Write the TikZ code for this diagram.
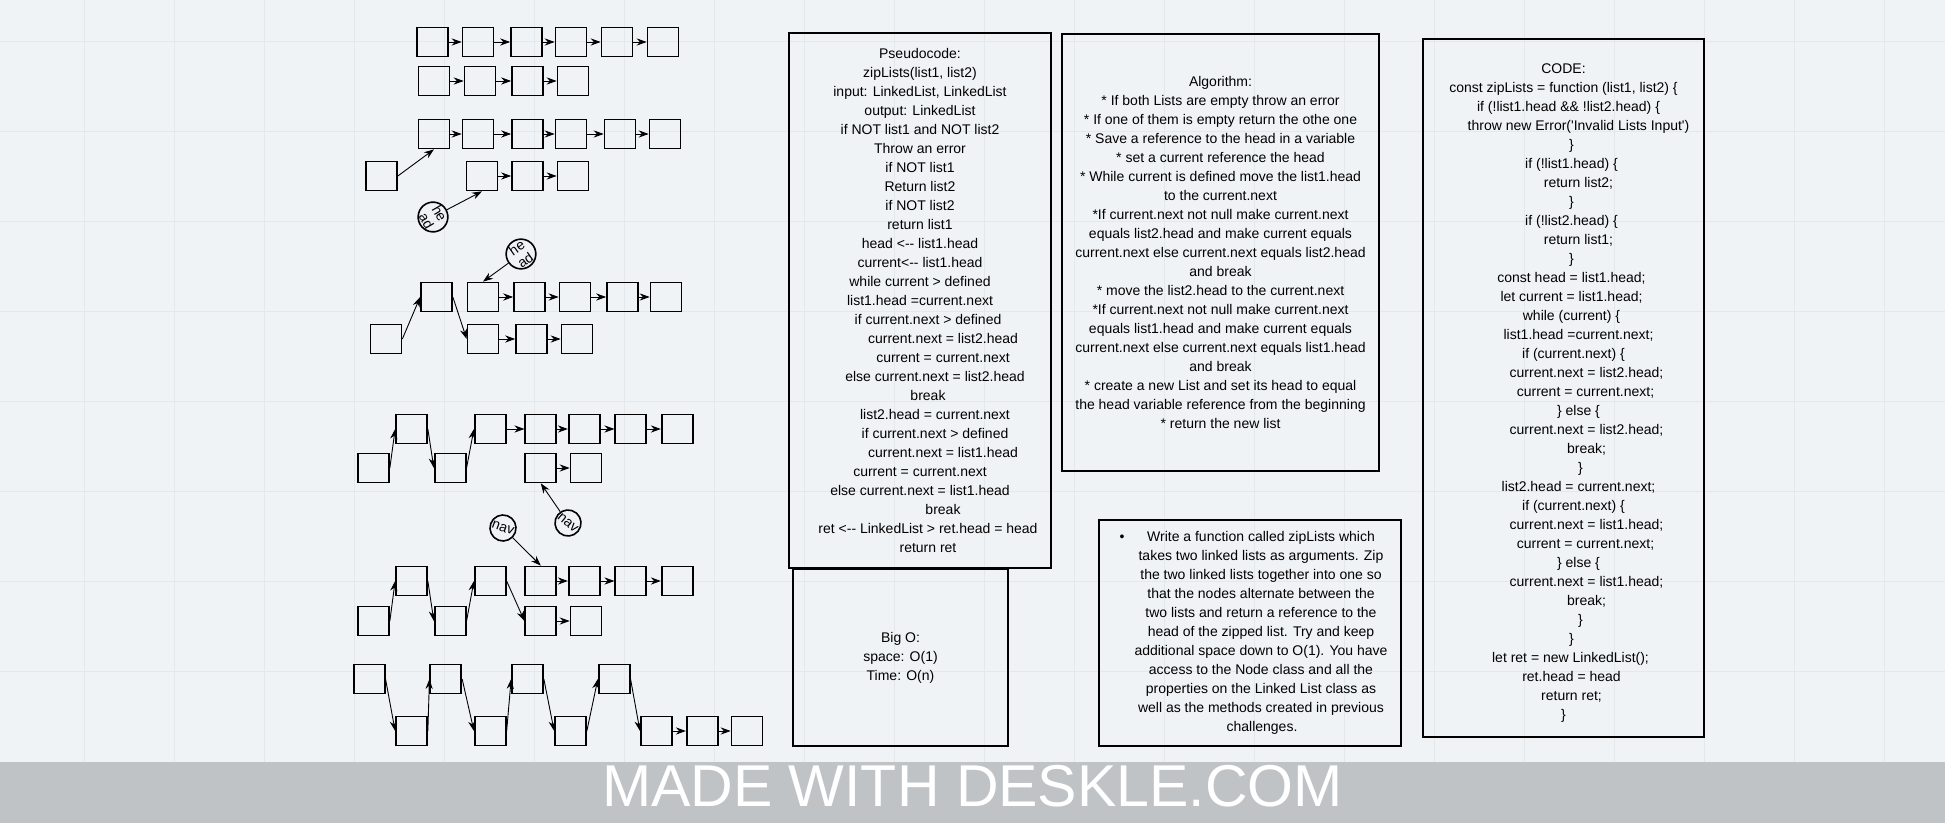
\documentclass[tikz,border=0pt]{standalone}
\usepackage{fontspec}
\setmainfont{Liberation Sans}
\usetikzlibrary{arrows.meta}
\definecolor{bgcol}{HTML}{F0F3F6}
\definecolor{gridcol}{HTML}{E3E8EC}
\definecolor{bannercol}{HTML}{BFC3C6}
\newcommand\sh[1]{\hspace*{#1pt}}
\tikzset{
	lbox/.style={draw,line width=0.85pt,minimum width=15.5pt,minimum height=14.5pt,inner sep=0pt},
	ring/.style={draw,circle,line width=0.8pt,minimum size=13pt,inner sep=0pt,align=center,font=\fontsize{7}{7.5}\selectfont},
	arr/.style={-{Stealth[length=5pt,width=3.6pt]},line width=0.45pt},
	txtbox/.style={draw,line width=1pt,align=center,inner sep=0pt,font=\fontsize{7}{9.5}\selectfont}
}
\begin{document}
\begin{tikzpicture}[x=0.5pt,y=-0.5pt]
	\useasboundingbox (0,0) rectangle (1945,823);
	\fill[bgcol] (0,0) rectangle (1945,823);
	\foreach \x in {84,174,...,1944}
		\draw[gridcol,line width=0.4pt] (\x,0) -- (\x,762);
	\foreach \y in {41,131,...,760}
		\draw[gridcol,line width=0.4pt] (0,\y) -- (1945,\y);
	% two lists
	\foreach \x [count=\i] in {432.5,478,526.5,571,617,663}
		\node[lbox] (a\i) at (\x,42) {};
	\foreach \x [count=\i] in {434,480,527.5,573}
		\node[lbox] (b\i) at (\x,81) {};
	\foreach \i/\j in {1/2,2/3,3/4,4/5,5/6}
		\draw[arr] (a\i) -- (a\j);
	\foreach \i/\j in {1/2,2/3,3/4}
		\draw[arr] (b\i) -- (b\j);
	% step 1
	\foreach \x [count=\i] in {434,478,527.5,571,620,665}
		\node[lbox] (c\i) at (\x,134) {};
	\node[lbox] (d0) at (381.5,176) {};
	\foreach \x [count=\i] in {482,527.5,573}
		\node[lbox] (d\i) at (\x,176) {};
	\foreach \i/\j in {1/2,2/3,3/4,4/5,5/6}
		\draw[arr] (c\i) -- (c\j);
	\foreach \i/\j in {1/2,2/3}
		\draw[arr] (d\i) -- (d\j);
	\draw[arr] (d0.east) -- (c1.south);
	\node[ring,rotate=-60] (hd1) at (433,217) {he\\ad};
	\draw[arr] (hd1) -- (d1.south);
	% step 2
	\foreach \x [count=\i] in {436.5,483,529.5,575,622.5,666}
		\node[lbox] (e\i) at (\x,297) {};
	\node[lbox] (f0) at (386,339) {};
	\foreach \x [count=\i] in {483,531.5,577}
		\node[lbox] (f\i) at (\x,339) {};
	\foreach \i/\j in {2/3,3/4,4/5,5/6}
		\draw[arr] (e\i) -- (e\j);
	\foreach \i/\j in {1/2,2/3}
		\draw[arr] (f\i) -- (f\j);
	\draw[arr] (f0.east) -- (e1.west);
	\draw[arr] (e1.east) -- (f1.west);
	\node[ring,rotate=35] (hd2) at (521,254) {he\\ad};
	\draw[arr] (hd2) -- (e2.north);
	% step 3
	\foreach \x [count=\i] in {411.5,490.3,540.8,584.2,630.8,677.2}
		\node[lbox] (g\i) at (\x,429) {};
	\foreach \x [count=\i] in {373.5,450.2,540.8,586}
		\node[lbox] (h\i) at (\x,468) {};
	\draw[arr] (h1.east) -- (g1.west);
	\draw[arr] (g1.east) -- (h2.west);
	\draw[arr] (h2.east) -- (g2.west);
	\foreach \i/\j in {2/3,3/4,4/5,5/6}
		\draw[arr] (g\i) -- (g\j);
	\draw[arr] (h3) -- (h4);
	\node[ring,rotate=-40] (nv2) at (568,523) {nav};
	\draw[arr] (nv2) -- (h3.south);
	% step 4
	\foreach \x [count=\i] in {411.5,490.3,540.8,584.2,630.8,677.2}
		\node[lbox] (i\i) at (\x,581) {};
	\foreach \x [count=\i] in {373.5,450.2,540.8,586}
		\node[lbox] (j\i) at (\x,621) {};
	\draw[arr] (j1.east) -- (i1.west);
	\draw[arr] (i1.east) -- (j2.west);
	\draw[arr] (j2.east) -- (i2.west);
	\draw[arr] (i2.east) -- (j3.west);
	\foreach \i/\j in {3/4,4/5,5/6}
		\draw[arr] (i\i) -- (i\j);
	\draw[arr] (j3) -- (j4);
	\node[ring,rotate=-20] (nv1) at (503,528) {nav};
	\draw[arr] (nv1) -- (i3.north);
	% zipped
	\foreach \x [count=\i] in {369.2,445.8,527.5,614.2}
		\node[lbox] (k\i) at (\x,679) {};
	\foreach \x [count=\i] in {411.5,490.3,570.5,656.3,702.2,747}
		\node[lbox] (l\i) at (\x,731) {};
	\foreach \i [evaluate=\i as \n using int(\i+1)] in {1,2,3,4}{
		\draw[arr] (k\i.east) -- (l\i.west);
		\ifnum\i<4 \draw[arr] (l\i.east) -- (k\n.west);\fi
	}
	\draw[arr] (l4) -- (l5);
	\draw[arr] (l5) -- (l6);
	% text boxes
	\node[txtbox,minimum width=131pt,minimum height=267.5pt] (pseudo) at (920,300.5)
		{Pseudocode:\\ zipLists(list1, list2)\\ input: LinkedList, LinkedList\\ output: LinkedList\\
		if NOT list1 and NOT list2\\ Throw an error\\ if NOT list1\\ Return list2\\ if NOT list2\\
		return list1\\ head <-{}- list1.head\\ current<-{}- list1.head\\ while current > defined\\
		list1.head =current.next\\ \sh{8}if current.next > defined\\ \sh{23}current.next = list2.head\\
		\sh{23}current = current.next\\ \sh{15}else current.next = list2.head\\ \sh{8}break\\
		\sh{15}list2.head = current.next\\ \sh{15}if current.next > defined\\ \sh{23}current.next = list1.head\\
		current = current.next\\ else current.next = list1.head\\ \sh{23}break\\
		\sh{8}ret <-{}- LinkedList > ret.head = head\\ \sh{8}return ret};
	\node[txtbox,minimum width=107.5pt,minimum height=88.5pt] (bigo) at (900.5,657.5)
		{Big O:\\ space: O(1)\\ Time: O(n)};
	\node[txtbox,minimum width=158.5pt,minimum height=218.5pt] (algo) at (1220.5,252.5)
		{Algorithm:\\ * If both Lists are empty throw an error\\ * If one of them is empty return the othe one\\
		* Save a reference to the head in a variable\\ * set a current reference the head\\
		* While current is defined move the list1.head\\ to the current.next\\
		*If current.next not null make current.next\\ equals list2.head and make current equals\\
		current.next else current.next equals list2.head\\ and break\\ * move the list2.head to the current.next\\
		*If current.next not null make current.next\\ equals list1.head and make current equals\\
		current.next else current.next equals list1.head\\ and break\\ * create a new List and set its head to equal\\
		the head variable reference from the beginning\\ * return the new list};
	\node[txtbox,minimum width=151pt,minimum height=113pt] (task) at (1250,633)
		{\sh{11}\llap{\textbullet\hspace{11.3pt}}Write a function called zipLists which\\
		\sh{11}takes two linked lists as arguments. Zip\\ \sh{11}the two linked lists together into one so\\
		\sh{11}that the nodes alternate between the\\ \sh{11}two lists and return a reference to the\\
		\sh{11}head of the zipped list. Try and keep\\ \sh{11}additional space down to O(1). You have\\
		\sh{11}access to the Node class and all the\\ \sh{11}properties on the Linked List class as\\
		\sh{11}well as the methods created in previous\\ \sh{12}challenges.};
	\node[txtbox,minimum width=140.5pt,minimum height=349pt] (code) at (1563.5,388)
		{\rule{0pt}{9.5pt}CODE:\\ const zipLists = function (list1, list2) \{\\ \sh{5}if (!list1.head \&\& !list2.head) \{\\
		\sh{15}throw new Error(\textquotesingle Invalid Lists Input\textquotesingle)\\ \sh{8}\}\\
		\sh{8}if (!list1.head) \{\\ \sh{15}return list2;\\ \sh{8}\}\\ \sh{8}if (!list2.head) \{\\
		\sh{15}return list1;\\ \sh{8}\}\\ \sh{8}const head = list1.head;\\ \sh{8}let current = list1.head;\\
		\sh{8}while (current) \{\\ \sh{15}list1.head =current.next;\\ \sh{10}if (current.next) \{\\
		\sh{23}current.next = list2.head;\\ \sh{22}current = current.next;\\ \sh{15}\} else \{\\
		\sh{23}current.next = list2.head;\\ \sh{23}break;\\ \sh{17}\}\\ \sh{15}list2.head = current.next;\\
		\sh{10}if (current.next) \{\\ \sh{23}current.next = list1.head;\\ \sh{22}current = current.next;\\
		\sh{15}\} else \{\\ \sh{23}current.next = list1.head;\\ \sh{23}break;\\ \sh{17}\}\\ \sh{8}\}\\
		\sh{7}let ret = new LinkedList();\\ \sh{8}ret.head = head\\ \sh{8}return ret;\\ \}};
	% banner
	\fill[bannercol] (0,762) rectangle (1945,823);
	\node[text=white,inner sep=0pt,font=\fontsize{29.5}{30}\selectfont] (brand) at (972.5,786.5) {MADE WITH DESKLE.COM};
\end{tikzpicture}
\end{document}
